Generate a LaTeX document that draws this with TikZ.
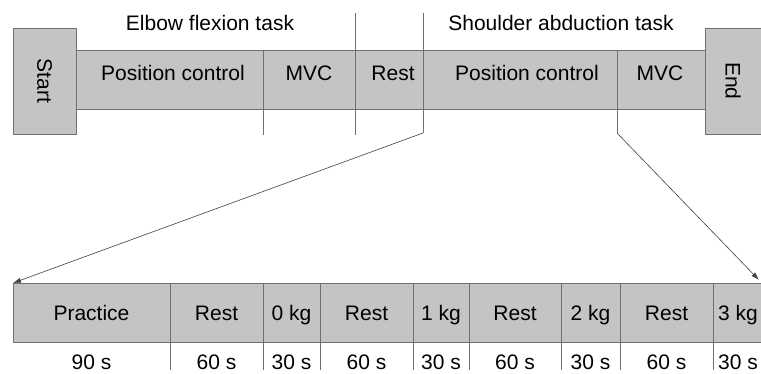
\documentclass[tikz,border=0pt]{standalone}
\usepackage{fontspec}
\setmainfont{Liberation Sans}
\usetikzlibrary{arrows.meta}

\definecolor{boxfill}{RGB}{196,196,196}
\definecolor{boxline}{RGB}{112,112,112}

\tikzset{
    block/.style={draw=boxline, fill=boxfill, line width=0.8pt},
    divider/.style={draw=boxline, line width=0.8pt},
    txt/.style={font=\fontsize{21}{25}\selectfont, inner sep=0pt},
    zoomline/.style={draw=black!75, line width=0.6pt, -{Latex[length=8pt,width=5pt]}}
}

\begin{document}
\begin{tikzpicture}[x=1pt,y=-1pt]
    \path[use as bounding box, clip] (0,0) rectangle (761,374);
    % Draw the task bar with start and end blocks
    \draw[block] (76,50) rectangle (705,109);
    \draw[block] (13,28) rectangle (76,134);
    \draw[block] (705,28) rectangle (766,134);
    \node[txt, rotate=-90] (start) at (44.5,81) {Start};
    \node[txt, rotate=-90] (end) at (733,81) {End};

    % Task headers
    \node[txt, anchor=base] (elbow) at (210,31) {Elbow flexion task};
    \node[txt, anchor=base] (shoulder) at (561,31) {Shoulder abduction task};

    % Dividers in the task bar
    \draw[divider] (263,50) -- (263,135);
    \draw[divider] (355,13) -- (355,135);
    \draw[divider] (423,13) -- (423,133) coordinate (zoomL);
    \draw[divider] (617,50) -- (617,133) coordinate (zoomR);

    % Phase labels
    \foreach \x/\name/\what in {173/pos1/Position control, 309/mvc1/MVC,
        393/rest1/Rest, 527/pos2/Position control, 660/mvc2/MVC}
        \node[txt, anchor=base] (\name) at (\x,81) {\what};

    % Detailed protocol bar
    \draw[block] (13,283) coordinate (detailL) rectangle (770,342);
    \coordinate (detailR) at (759,280);
    \foreach \x in {170,263,320,413,469,561,620,713}
        \draw[divider] (\x,283) -- (\x,370);
    \foreach \a/\b/\name/\what/\dur in {13/170/prac/Practice/90 s,
        170/263/restA/Rest/60 s, 263/320/kg0/0 kg/30 s,
        320/413/restB/Rest/60 s, 413/469/kg1/1 kg/30 s,
        469/561/restC/Rest/60 s, 561/620/kg2/2 kg/30 s,
        620/713/restD/Rest/60 s, 713/763/kg3/3 kg/30 s}
    {
        \node[txt, anchor=base] (\name) at ({(\a+\b)/2},320) {\what};
        \node[txt, anchor=base] (\name-t) at ({(\a+\b)/2},369) {\dur};
    }

    % Zoom lines
    \draw[zoomline] (zoomL) -- (detailL);
    \draw[zoomline] (zoomR) -- (detailR);
\end{tikzpicture}
\end{document}
